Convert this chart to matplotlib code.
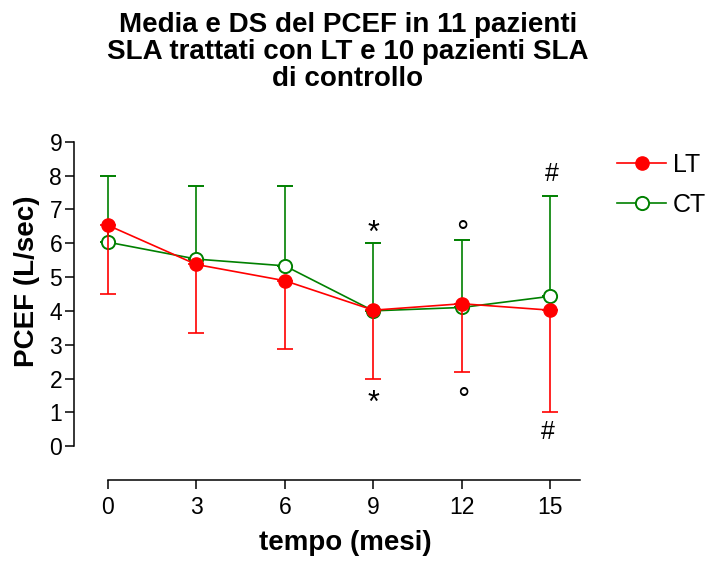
import numpy as np
import matplotlib.pyplot as plt

plt.rcParams['font.family'] = ['Liberation Sans', 'DejaVu Sans']

# data
months = [0, 3, 6, 9, 12, 15]
lt_mean = [6.53, 5.37, 4.89, 4.02, 4.21, 4.02]
lt_sd = [2.02, 2.02, 2.02, 2.02, 2.01, 3.02]
ct_mean = [6.03, 5.53, 5.33, 4.00, 4.10, 4.43]
ct_sd = [1.97, 2.16, 2.36, 2.00, 1.99, 2.97]

# significance marks: symbol, x, baseline y
marks_sym = ['*', '*', '°', '°', '#', '#']
marks_x = [9, 9, 12, 12.05, 15.05, 14.9]
marks_y = [6.03, 1.01, 6.03, 1.10, 7.85, 0.2]
marks_size = [22, 22, 22, 22, 18, 18]

red = '#ff0000'
green = '#008000'


def main():
    fig = plt.figure(figsize=(7.14, 5.69), dpi=100)
    ax = fig.add_axes([0.1036, 0.1564, 0.7085, 0.5946])

    x = np.array(months)
    zeros = np.zeros(len(months))

    ax.errorbar(x, lt_mean, yerr=[lt_sd, zeros], color=red, lw=1.2,
                marker='o', ms=9.5, mfc=red, mec=red, capsize=5.5,
                capthick=1.2, elinewidth=1.2, label='LT', zorder=3)
    ax.errorbar(x, ct_mean, yerr=[zeros, ct_sd], color=green, lw=1.2,
                marker='o', ms=9.5, mfc='white', mec=green, mew=1.4,
                capsize=5.5, capthick=1.2, elinewidth=1.2, label='CT',
                zorder=2)

    for s, mx, my, fs in zip(marks_sym, marks_x, marks_y, marks_size):
        ax.text(mx, my, s, ha='center', va='baseline', fontsize=fs)

    ax.set_xlim(-1.15, 16)
    ax.set_ylim(-1.0, 9)
    ax.set_xticks(months)
    ax.set_yticks(range(10))
    for side in ('top', 'right'):
        ax.spines[side].set_visible(False)
    ax.spines['left'].set_bounds(0, 9)
    ax.spines['bottom'].set_bounds(0, 16)
    for side in ('left', 'bottom'):
        ax.spines[side].set_linewidth(1.1)
    ax.tick_params(axis='both', labelsize=16.5, width=1.1, length=6.5)
    ax.tick_params(axis='y', pad=2)
    ax.tick_params(axis='x', pad=5)

    ax.set_xlabel('tempo (mesi)', fontsize=20, fontweight='bold')
    ax.set_ylabel('PCEF (L/sec)', fontsize=20, fontweight='bold')
    ax.xaxis.set_label_coords(0.536, -0.147)
    ax.yaxis.set_label_coords(-0.068, 0.586)

    fig.text(348 / 714, 1 - 12 / 569,
             'Media e DS del PCEF in 11 pazienti\n'
             'SLA trattati con LT e 10 pazienti SLA\n'
             'di controllo',
             ha='center', va='top', fontsize=20, fontweight='bold',
             linespacing=1.05)

    handles, labels = ax.get_legend_handles_labels()
    handles = [h[0] for h in handles]
    fig.legend(handles, labels, loc='upper left',
               bbox_to_anchor=(617 / 714, 1 - 153 / 569),
               frameon=False, fontsize=18, handlelength=1.96,
               handletextpad=0.28, labelspacing=0.64, borderpad=0,
               borderaxespad=0)

    fig.savefig('out.png', dpi=100)


if __name__ == '__main__':
    main()
